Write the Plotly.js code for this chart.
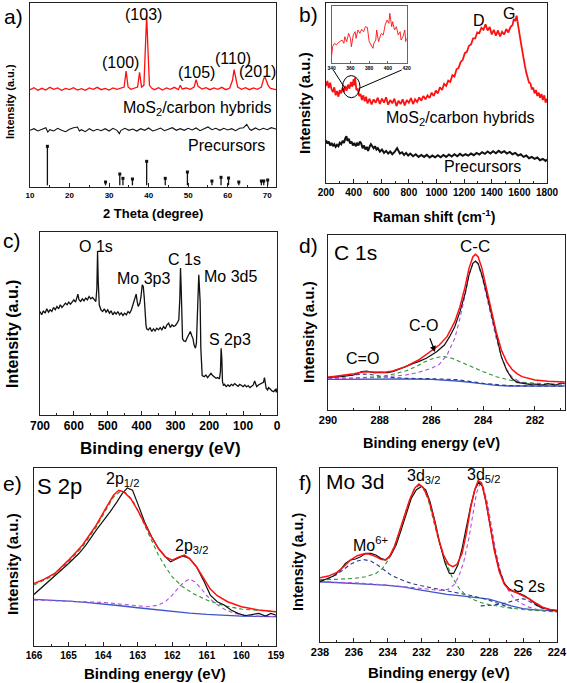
<!DOCTYPE html>
<html><head><meta charset="utf-8">
<script src="https://cdn.plot.ly/plotly-3.0.1.min.js"></script>
<style>html,body{margin:0;padding:0;background:#fff}#chart{width:567px;height:683px}</style>
</head><body><div id="chart"></div>
<script>
// ---------- Panel a: XRD ----------
const xrdHybrid = [[10,292],[11,298],[12,290],[13,296],[14,291],[15,299],[16,293],[17,297],[18,290],[19,296],[20,292],[21,298],[22,291],[23,295],[24,290],[25,297],[26,293],[27,299],[28,292],[29,296],[30,291],[31,297],[32,293],[33,298],[33.8,300],[34.3,348],[34.8,300],[35.5,293],[36.5,297],[37.2,300],[37.7,344],[38.2,300],[38.8,305],[39.2,420],[39.5,515],[39.8,420],[40.2,305],[40.8,296],[41.5,292],[42.5,298],[43.5,291],[44.5,297],[45.5,293],[46.5,299],[47.5,292],[48,305],[48.5,294],[49.5,297],[50.5,293],[51.5,300],[52,322],[52.5,302],[53.5,294],[54.5,298],[55.5,292],[56.5,297],[57.5,293],[58.5,299],[59.5,292],[60.5,297],[61.2,320],[61.6,352],[62,330],[62.5,300],[63.5,293],[64.5,298],[65.5,292],[66.5,297],[67.5,293],[68.5,300],[69.1,325],[69.4,330],[69.8,318],[70.2,305],[70.8,296],[71.5,294],[72.2,292]];
const xrdPrecursor = [[10,170],[11,175],[12,168],[13,172],[14,178],[14.5,165],[15,172],[16,168],[17,176],[18,170],[19,166],[20,173],[21,178],[22,180],[22.5,168],[23,172],[24,166],[25,175],[26,168],[27,173],[28,169],[29,175],[30,168],[31,176],[32,170],[32.6,160],[33,170],[34,176],[35,170],[36,174],[37,168],[38,175],[39,170],[40,177],[41,168],[42,172],[43,177],[44,169],[45,174],[46,178],[47,170],[48,175],[49,170],[50,176],[51,171],[52,177],[53,169],[54,174],[55,180],[56,172],[57,176],[58,170],[59,176],[60,171],[61,175],[62,169],[63,176],[64,178],[64.8,188],[65.5,174],[66,170],[67,177],[68,171],[69,176],[70,172],[71,178],[72.2,174]];
const refPos = [14.4,29.1,32.7,33.5,35.9,39.5,44.2,49.8,56.0,58.3,60.2,62.8,68.5,69.1,70.1];
const refInt = [122,15,39,26,24,77,26,45,18,29,27,15,18,18,21];
const refBase = 5;
const xrdPeakLabels = ['(103)','(100)','(105)','(110)','(201)'];

// ---------- Panel b: Raman ----------
const ramanHybrid = [[200,290],[210,305],[220,284],[230,300],[240,280],[250,272],[260,286],[270,262],[280,275],[290,258],[300,278],[310,268],[320,285],[330,272],[340,290],[350,276],[360,294],[370,282],[380,302],[390,288],[400,310],[405,292],[410,316],[415,296],[420,278],[430,282],[440,260],[450,266],[460,248],[470,262],[480,244],[490,258],[500,238],[515,252],[530,235],[545,250],[560,240],[575,255],[590,236],[605,252],[620,240],[635,256],[650,234],[665,248],[680,238],[695,252],[710,230],[725,246],[740,236],[755,250],[770,232],[785,248],[800,240],[815,254],[830,236],[845,250],[860,242],[875,256],[890,246],[905,260],[920,250],[935,262],[950,254],[965,270],[980,260],[995,276],[1010,268],[1025,286],[1040,278],[1055,296],[1070,290],[1085,306],[1100,302],[1115,322],[1130,318],[1145,340],[1160,344],[1175,362],[1190,368],[1205,388],[1220,392],[1235,410],[1250,414],[1265,432],[1280,432],[1295,450],[1310,448],[1325,464],[1340,458],[1355,474],[1370,456],[1385,466],[1400,444],[1415,458],[1430,440],[1445,456],[1460,438],[1475,452],[1490,444],[1505,460],[1520,450],[1535,466],[1550,472],[1560,490],[1570,484],[1580,500],[1590,470],[1600,452],[1610,422],[1620,398],[1630,370],[1640,350],[1650,330],[1660,318],[1670,300],[1680,298],[1690,280],[1700,285],[1710,268],[1720,278],[1730,260],[1740,270],[1750,255],[1760,266],[1770,248],[1780,262],[1790,240],[1800,252]];
const ramanPrecursor = [[200,128],[210,118],[220,124],[230,112],[240,120],[250,110],[260,116],[270,108],[280,114],[290,110],[300,120],[310,116],[320,126],[330,120],[340,134],[348,140],[355,126],[365,132],[375,118],[385,124],[395,112],[405,120],[415,110],[425,118],[435,112],[445,124],[455,118],[465,104],[475,112],[485,100],[495,108],[505,96],[515,108],[525,116],[535,110],[545,104],[555,110],[565,100],[575,104],[590,94],[605,100],[620,90],[635,96],[650,88],[665,94],[680,86],[695,92],[705,98],[715,104],[725,96],[735,88],[750,92],[765,84],[780,90],[795,82],[810,88],[830,80],[850,86],[870,78],[890,84],[910,78],[930,84],[950,76],[970,82],[990,77],[1010,83],[1030,77],[1050,84],[1070,78],[1090,85],[1110,79],[1130,86],[1150,80],[1170,87],[1190,81],[1210,86],[1230,82],[1250,88],[1270,83],[1290,90],[1310,85],[1330,92],[1350,87],[1370,94],[1390,88],[1410,95],[1430,89],[1450,96],[1470,90],[1490,95],[1510,88],[1530,93],[1550,86],[1570,90],[1590,82],[1610,86],[1630,78],[1650,82],[1670,74],[1690,78],[1710,72],[1730,76],[1750,68],[1770,72],[1790,66],[1800,70]];
const ramanInset = [[340,25],[341,50],[343,60],[345,55],[347,62],[349,65],[351,70],[353,60],[354,80],[356,65],[358,90],[360,75],[361,50],[363,85],[365,95],[366,75],[368,100],[370,90],[372,102],[374,95],[376,110],[378,108],[379,90],[380,65],[382,55],[384,45],[385,60],[387,70],[388,100],[390,65],[391,75],[393,90],[395,85],[397,115],[399,130],[401,120],[402,150],[403,135],[404,110],[405,125],[407,100],[409,110],[411,85],[413,95],[414,70],[416,80],[418,100],[419,65],[420,75]];

// ---------- Panel c: XPS survey ----------
const xpsSurvey = [[700,310],[695,300],[690,312],[685,305],[680,318],[675,308],[670,315],[665,310],[660,322],[655,315],[650,325],[645,318],[640,330],[635,322],[630,328],[625,335],[620,330],[615,338],[610,332],[605,340],[600,345],[595,338],[590,352],[588,362],[585,345],[580,340],[575,348],[570,342],[565,350],[560,345],[555,355],[550,348],[545,352],[540,345],[535,340],[532,380],[530,490],[528,400],[525,330],[520,315],[515,310],[510,318],[505,308],[500,315],[495,305],[490,312],[485,300],[480,308],[475,302],[470,310],[465,300],[460,306],[455,298],[450,305],[445,300],[440,310],[435,305],[430,315],[425,330],[420,345],[416,362],[413,340],[410,325],[405,335],[402,352],[398,390],[395,385],[392,350],[390,300],[387,270],[385,258],[380,255],[375,262],[370,250],[365,258],[360,252],[355,260],[350,255],[345,262],[340,255],[335,265],[330,258],[325,270],[320,275],[315,262],[310,270],[305,265],[300,268],[295,275],[290,285],[287,350],[285,440],[283,380],[281,270],[279,228],[275,222],[270,220],[265,232],[260,245],[256,250],[252,238],[248,228],[245,210],[241,200],[238,215],[235,320],[233,415],[231,420],[229,380],[227,340],[225,200],[223,130],[221,118],[215,115],[210,120],[205,112],[200,118],[195,125],[190,118],[185,115],[180,110],[175,112],[170,108],[167,130],[165,200],[163,170],[161,100],[158,88],[155,92],[150,85],[145,90],[140,86],[135,92],[130,88],[125,94],[120,90],[115,86],[110,92],[105,88],[100,85],[95,90],[90,84],[85,88],[80,82],[75,86],[70,90],[66,102],[63,92],[60,85],[55,90],[50,92],[45,95],[40,98],[37,112],[35,100],[32,80],[28,75],[25,82],[20,78],[15,72],[10,70],[5,76],[2,68],[0,80]];

// ---------- Panel d: C 1s ----------
const c1sData = [[290,98],[289.5,100],[289,105],[288.7,115],[288.5,117],[288.2,111],[288,113],[287.7,112],[287.5,115],[287.2,123],[287,130],[286.7,140],[286.5,145],[286.2,155],[286,165],[285.8,175],[285.5,195],[285.3,220],[285.1,250],[284.9,295],[284.7,350],[284.55,405],[284.4,440],[284.3,447],[284.2,440],[284.05,405],[283.9,360],[283.7,295],[283.5,225],[283.3,160],[283.1,120],[282.9,95],[282.7,83],[282.5,80],[282.2,77],[282,78],[281.7,75],[281.5,79],[281.2,75],[281,81],[280.85,80]];
const c1sFit = [[290,98],[289.5,103],[289,109],[288.6,115],[288.2,113],[287.8,113],[287.5,117],[287,130],[286.5,150],[286,177],[285.7,195],[285.4,220],[285.1,265],[284.9,310],[284.7,370],[284.55,425],[284.4,460],[284.3,467],[284.2,460],[284.05,425],[283.9,375],[283.7,305],[283.5,235],[283.3,180],[283.1,145],[282.9,123],[282.7,109],[282.5,100],[282.2,93],[282,90],[281.5,86],[281,84],[280.85,84]];
const c1sCC = [[290,95],[289,95],[288,98],[287.5,101],[287,105],[286.5,113],[286,125],[285.7,137],[285.4,165],[285.1,215],[284.9,275],[284.7,345],[284.55,405],[284.4,440],[284.3,445],[284.2,437],[284.05,400],[283.9,350],[283.7,285],[283.5,215],[283.3,160],[283.1,123],[282.9,100],[282.6,85],[282.3,79],[282,76],[281.5,75],[280.85,75]];
const c1sCO = [[290,95],[289,96],[288,100],[287.5,107],[287,117],[286.6,130],[286.3,143],[286,153],[285.7,159],[285.5,160],[285.2,155],[284.9,145],[284.5,130],[284,115],[283.5,100],[283,90],[282.5,83],[282,80],[281.5,78],[280.85,77]];
const c1sCdO = [[290,97],[289.5,100],[289,105],[288.6,108],[288.2,105],[287.8,99],[287,95],[286,94],[285,91],[284,80],[283,73],[282,72],[280.85,72]];
const c1sBase = [[290,92],[289,93],[288,93],[287,93],[286,92],[285.5,90],[285,87],[284.5,83],[284,78],[283.5,74],[283,72],[282,72],[280.85,72]];

// ---------- Panel e: S 2p ----------
const s2pData = [[166,155],[165.8,173],[165.5,203],[165.2,228],[165,248],[164.7,278],[164.5,303],[164.2,348],[164,375],[163.8,403],[163.6,433],[163.45,458],[163.3,475],[163.15,468],[163,428],[162.8,373],[162.6,328],[162.4,293],[162.2,268],[162.05,253],[161.9,261],[161.7,271],[161.5,263],[161.3,238],[161.1,198],[160.9,153],[160.7,133],[160.5,123],[160.3,108],[160.1,98],[159.9,91],[159.7,95],[159.5,98],[159.3,90],[159.15,98],[159,93]];
const s2pFit = [[166,188],[165.7,201],[165.4,218],[165,258],[164.6,303],[164.2,363],[163.9,418],[163.7,453],[163.55,468],[163.4,463],[163.2,443],[163,408],[162.8,368],[162.6,328],[162.4,293],[162.2,268],[162,258],[161.8,268],[161.65,273],[161.5,263],[161.3,238],[161.1,203],[160.9,171],[160.7,151],[160.4,133],[160,118],[159.5,108],[159,103]];
const s2p12 = [[166,183],[165.5,208],[165,253],[164.6,298],[164.2,358],[163.9,413],[163.7,448],[163.5,465],[163.35,461],[163.15,438],[163,408],[162.8,363],[162.6,318],[162.4,273],[162.2,238],[162,208],[161.7,178],[161.4,158],[161,138],[160.5,121],[160,111],[159.5,106],[159,103]];
const s2p32 = [[166,138],[165,135],[164,131],[163.2,123],[162.7,118],[162.4,123],[162.2,133],[162,153],[161.8,178],[161.65,193],[161.5,201],[161.35,193],[161.15,171],[161,151],[160.8,131],[160.5,111],[160.2,98],[159.8,91],[159,88]];
const s2pBase = [[166,140],[165.5,138],[165,135],[164.5,131],[164,127],[163.5,121],[163,115],[162.5,109],[162,103],[161.5,99],[161,95],[160.5,92],[160,90],[159,88]];

// ---------- Panel f: Mo 3d ----------
const mo3dData = [[238,180],[237.6,188],[237.2,197],[236.8,215],[236.5,235],[236.2,245],[235.9,248],[235.6,255],[235.3,265],[235,265],[234.7,260],[234.4,250],[234.1,245],[233.8,260],[233.5,290],[233.2,335],[232.9,385],[232.6,430],[232.3,455],[232,465],[231.75,455],[231.5,420],[231.2,360],[230.9,290],[230.6,235],[230.35,205],[230.1,205],[229.85,230],[229.6,280],[229.35,345],[229.1,405],[228.85,455],[228.6,478],[228.4,465],[228.2,420],[227.95,350],[227.7,280],[227.4,215],[227.1,175],[226.8,158],[226.5,150],[226.2,145],[225.9,138],[225.6,128],[225.3,115],[225,105],[224.6,98],[224.3,95],[224,93]];
const mo3dFit = [[238,192],[237.5,197],[237,208],[236.6,225],[236.2,245],[235.8,258],[235.4,264],[235.1,263],[234.7,255],[234.4,247],[234.15,245],[233.9,255],[233.6,285],[233.3,330],[233,375],[232.7,425],[232.4,460],[232.15,472],[231.9,462],[231.6,430],[231.3,375],[231,310],[230.7,260],[230.4,232],[230.15,225],[229.9,232],[229.6,265],[229.35,325],[229.1,400],[228.85,455],[228.65,482],[228.45,475],[228.2,425],[227.95,350],[227.7,275],[227.4,210],[227.1,172],[226.8,155],[226.4,148],[226,138],[225.6,128],[225.2,115],[224.8,103],[224.4,97],[224,95]];
const mo3d32 = [[238,185],[237,187],[236,190],[235.3,195],[234.7,205],[234.3,220],[233.9,250],[233.5,300],[233.1,365],[232.7,425],[232.4,458],[232.15,468],[231.9,460],[231.6,425],[231.3,365],[231,305],[230.6,245],[230.2,195],[229.8,162],[229.4,140],[229,128],[228.5,118],[228,112],[227.5,107],[227,103],[226,97],[225,93],[224,90]];
const mo3d52 = [[238,180],[236,177],[234,170],[232.5,162],[231.5,157],[230.8,154],[230.4,158],[230.1,170],[229.8,195],[229.5,240],[229.2,310],[228.95,390],[228.75,445],[228.55,472],[228.35,465],[228.1,415],[227.85,345],[227.6,270],[227.3,205],[227,165],[226.6,135],[226.2,118],[225.7,105],[225,95],[224,90]];
const mo6plus = [[238,185],[237.5,190],[237,202],[236.6,218],[236.2,232],[235.8,242],[235.4,246],[235,242],[234.6,230],[234.2,215],[233.8,200],[233.3,188],[232.6,175],[232,168],[231,157],[230,148],[229,138],[228,125],[227.3,112],[226.8,102],[226.5,98]];
const s2s = [[228.5,108],[227.8,110],[227.2,114],[226.8,120],[226.4,127],[226.1,130],[225.8,127],[225.4,115],[225,103],[224.5,96],[224,93]];
const mo3dBase = [[238,180],[237,178],[236,175],[235,172],[234,169],[233,164],[232.3,157],[231.5,150],[230.5,142],[229.5,137],[228.5,132],[228,128],[227.3,118],[226.7,108],[226,100],[225.3,96],[224,93]];

// ---------- styling & layout helpers ----------
const W = 567, H = 683;
const FONT = 'Arial, "Liberation Sans", sans-serif';
const RED = '#ff1010', BLK = '#111111', GRN = '#2f8f2f', PUR = '#b14fe0', NAV = '#2a3a8c', BLU = '#3a56c8';
const DASH = '4px,3px';
const fx = p => p / W, fy = p => 1 - p / H;

function tr(pairs, ax, color, width, dash) {
  return { x: pairs.map(p => p[0]), y: pairs.map(p => p[1]), xaxis: 'x' + ax, yaxis: 'y' + ax,
    mode: 'lines', line: { color: color, width: width, dash: dash || 'solid' },
    hoverinfo: 'skip', showlegend: false };
}
function xax(l, r, range, dtick, minor, fs, anchor) {
  return { domain: [fx(l), fx(r)], range: range, autorange: false, anchor: anchor,
    showline: true, mirror: true, linecolor: '#222', linewidth: 1,
    ticks: 'inside', ticklen: 4, tickwidth: 1, tickcolor: '#222', dtick: dtick, tick0: 0,
    minor: { dtick: minor, ticks: 'inside', ticklen: 2, tickcolor: '#222' },
    tickfont: { family: FONT, size: fs, color: '#000', weight: 'bold' },
    showgrid: false, zeroline: false, fixedrange: true };
}
function yax(t, b, range, anchor) {
  return { domain: [fy(b), fy(t)], range: range, autorange: false, anchor: anchor,
    showline: true, mirror: true, linecolor: '#222', linewidth: 1,
    ticks: '', showticklabels: false, showgrid: false, zeroline: false, fixedrange: true };
}
function ann(text, x, y, size, opts) {
  return Object.assign({ text: text, xref: 'paper', yref: 'paper', x: fx(x), y: fy(y),
    xanchor: 'center', yanchor: 'middle', showarrow: false,
    font: { family: FONT, size: size, color: '#000' } }, opts || {});
}
const bold = (t, x, y, s) => ann(t, x, y, s, { font: { family: FONT, size: s, color: '#000', weight: 'bold' } });
const ytitle = (x, y, s) => ann('Intensity (a.u.)', x, y, s, { textangle: -90, font: { family: FONT, size: s, color: '#000', weight: 'bold' } });

// sticks of the reference pattern, built from refPos / refInt
const stickX = [], stickY = [];
refPos.forEach((p, i) => { stickX.push(p, p, null); stickY.push(refBase, refInt[i], null); });

const traces = [
  tr(xrdPrecursor, '', BLK, 1.1),
  tr(xrdHybrid, '', RED, 1.3),
  { x: stickX, y: stickY, xaxis: 'x', yaxis: 'y', mode: 'lines', line: { color: BLK, width: 1.3 }, hoverinfo: 'skip', showlegend: false },
  { x: refPos, y: refInt, xaxis: 'x', yaxis: 'y', mode: 'markers', marker: { symbol: 'square', size: 3, color: BLK }, hoverinfo: 'skip', showlegend: false },

  tr(ramanPrecursor, '2', BLK, 2),
  tr(ramanHybrid, '2', RED, 1.8),
  tr(ramanInset, '7', RED, 0.9),

  tr(xpsSurvey, '3', BLK, 1.3),

  tr(c1sBase, '4', BLU, 1.3),
  tr(c1sCdO, '4', NAV, 1.1, DASH),
  tr(c1sCO, '4', GRN, 1.1, DASH),
  tr(c1sCC, '4', PUR, 1.1, DASH),
  tr(c1sData, '4', BLK, 1.2),
  tr(c1sFit, '4', RED, 1.5),

  tr(s2pBase, '5', BLU, 1.3),
  tr(s2p32, '5', PUR, 1.1, DASH),
  tr(s2p12, '5', GRN, 1.1, DASH),
  tr(s2pData, '5', BLK, 1.2),
  tr(s2pFit, '5', RED, 1.5),

  tr(mo3dBase, '6', BLU, 1.3),
  tr(s2s, '6', NAV, 1.1, DASH),
  tr(mo6plus, '6', NAV, 1.1, DASH),
  tr(mo3d52, '6', PUR, 1.1, DASH),
  tr(mo3d32, '6', GRN, 1.1, DASH),
  tr(mo3dData, '6', BLK, 1.2),
  tr(mo3dFit, '6', RED, 1.5)
];
traces[0].xaxis = 'x'; traces[0].yaxis = 'y';
traces[1].xaxis = 'x'; traces[1].yaxis = 'y';

const inset = xax(331.7, 406.7, [340, 420], 20, 10, 5, 'y7');
inset.linecolor = '#666'; inset.tickcolor = '#666'; inset.ticklen = 2; inset.minor = { ticks: '' };
const insetY = yax(5.7, 63.3, [0, 173], 'x7'); insetY.linecolor = '#666';

const layout = {
  width: W, height: H, margin: { l: 0, r: 0, t: 0, b: 0 },
  paper_bgcolor: '#fff', plot_bgcolor: 'rgba(0,0,0,0)', showlegend: false,
  xaxis: xax(30, 276, [10, 72.2], 10, 5, 8, 'y'),   yaxis: yax(3, 187, [0, 552], 'x'),
  xaxis2: xax(326, 547, [200, 1800], 200, 100, 10, 'y2'), yaxis2: yax(3, 183, [0, 538], 'x2'),
  xaxis3: xax(40, 277, [700, 0], 100, 50, 12, 'y3'), yaxis3: yax(232, 415, [0, 548], 'x3'),
  xaxis4: xax(328, 565, [290, 280.84], 2, 1, 11, 'y4'), yaxis4: yax(235, 410, [0, 525], 'x4'),
  xaxis5: xax(34, 276, [166, 159], 1, 0.5, 10, 'y5'), yaxis5: yax(468, 646, [0, 535], 'x5'),
  xaxis6: xax(320, 557, [238, 223.99], 2, 1, 11, 'y6'), yaxis6: yax(468, 642, [0, 520], 'x6'),
  xaxis7: inset, yaxis7: insetY,
  shapes: [
    { type: 'circle', xref: 'x2', yref: 'y2', x0: 320, x1: 446, y0: 255, y1: 321, line: { color: '#000', width: 1 } },
    { type: 'line', xref: 'paper', yref: 'paper', x0: fx(333.3), y0: fy(70), x1: fx(345), y1: fy(88.3), line: { color: '#000', width: 1 } },
    { type: 'line', xref: 'paper', yref: 'paper', x0: fx(359.3), y0: fy(88.3), x1: fx(401.7), y1: fy(70), line: { color: '#000', width: 1 } }
  ],
  annotations: [
    ann('a)', 13, 16, 21), ann('b)', 308, 15, 21), ann('c)', 12, 241, 21),
    ann('d)', 308, 246, 21), ann('e)', 12, 483, 21), ann('f)', 305, 482, 21),

    ytitle(10, 102, 11), ytitle(305, 103, 15), ytitle(13, 334, 16),
    ytitle(308, 332, 15), ytitle(12, 564, 15), ytitle(298, 562, 14.5),

    bold('2 Theta (degree)', 152.5, 213, 13),
    bold('Raman shift (cm<sup>-1</sup>)', 434, 216, 14),
    bold('Binding energy (eV)', 160, 448, 17),
    bold('Binding energy (eV)', 431, 443, 14.5),
    bold('Binding energy (eV)', 155, 673, 15),
    bold('Binding energy (eV)', 439, 672, 15),

    ann(xrdPeakLabels[0], 143.7, 15, 16), ann(xrdPeakLabels[1], 120.7, 62.7, 16),
    ann(xrdPeakLabels[2], 196.7, 72.3, 16), ann(xrdPeakLabels[3], 232.7, 58.3, 16),
    ann(xrdPeakLabels[4], 257.7, 71.7, 16),
    ann('MoS<sub>2</sub>/carbon hybrids', 197.7, 108, 16), ann('Precursors', 226, 145.7, 16),

    ann('D', 478.7, 20, 16), ann('G', 508.7, 13.3, 16),
    ann('MoS<sub>2</sub>/carbon hybrids', 460.7, 118.5, 16), ann('Precursors', 482.3, 166.7, 16),

    ann('O 1s', 95.7, 246.7, 16), ann('Mo 3p3', 143.7, 278.3, 16), ann('C 1s', 184, 259.3, 16),
    ann('Mo 3d5', 230, 276, 16), ann('S 2p3', 230, 339.3, 16),

    ann('C 1s', 355, 252.3, 21), ann('C-C', 475, 246.7, 17), ann('C-O', 423.7, 325.7, 16), ann('C=O', 362, 358.3, 16),
    { text: '', xref: 'paper', yref: 'paper', x: fx(435), y: fy(352), ax: -5.7, ay: -15.3,
      showarrow: true, arrowhead: 2, arrowsize: 1, arrowwidth: 1.2, arrowcolor: '#000' },

    ann('S 2p', 59, 486.7, 22), ann('2p<sub>1/2</sub>', 122.7, 479.5, 16), ann('2p<sub>3/2</sub>', 191.3, 546, 16),

    ann('Mo 3d', 355, 481.7, 21), ann('3d<sub>3/2</sub>', 423.3, 476, 16), ann('3d<sub>5/2</sub>', 483, 475, 16),
    ann('Mo<sup>6+</sup>', 370.7, 544, 16), ann('S 2s', 529.3, 586.7, 16)
  ]
};

Plotly.newPlot('chart', traces, layout, { staticPlot: true, displayModeBar: false });
</script></body></html>
